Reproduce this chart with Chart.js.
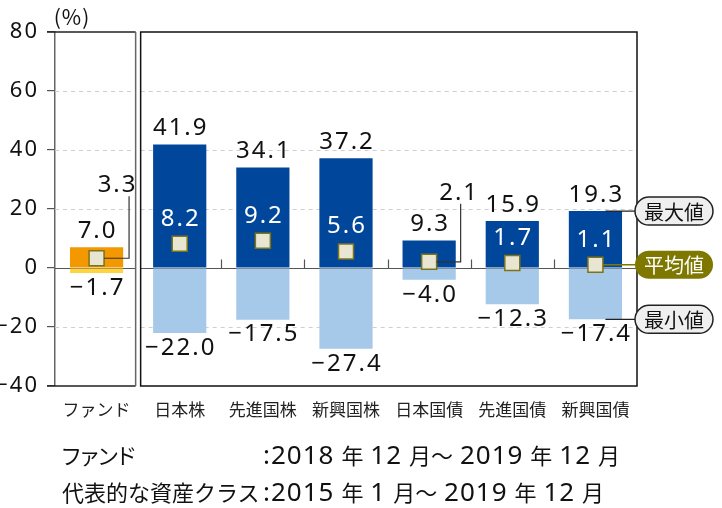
<!DOCTYPE html>
<html><head><meta charset="utf-8">
<script src="https://cdn.jsdelivr.net/npm/chart.js@4/dist/chart.umd.min.js"></script>
<style>
html,body{margin:0;padding:0;background:#fff;}
#wrap{position:relative;width:722px;height:508px;overflow:hidden;background:#fff;}
#c{position:absolute;left:0;top:0;}
.note{position:absolute;font-family:"Noto Sans CJK JP";font-size:22px;color:#111;white-space:pre;line-height:26px;word-spacing:2px;}
.note .d{font-family:"Noto Sans";font-size:26px;letter-spacing:1px;}
.note.kana{font-feature-settings:"palt";}
</style></head><body>
<div id="wrap">
<canvas id="c" width="722" height="508"></canvas>
<div id="notes"></div>
</div>
<script>
// ---- data ----
const categories = ['ファンド','日本株','先進国株','新興国株','日本国債','先進国債','新興国債'];
const maxValues = [7.0, 41.9, 34.1, 37.2, 9.3, 15.9, 19.3];
const minValues = [-1.7, -22.0, -17.5, -27.4, -4.0, -12.3, -17.4];
const avgValues = [3.3, 8.2, 9.2, 5.6, 2.1, 1.7, 1.1];
const yTicks = [-40, -20, 0, 20, 40, 60, 80];
const legendLabels = ['最大値', '平均値', '最小値'];
const unitLabel = '(%)';
const noteNames = ['ファンド', '代表的な資産クラス'];
const notePeriods = [':2018 年 12 月～ 2019 年 12 月', ':2015 年 1 月～ 2019 年 12 月'];

// ---- style ----
const COL = {
  fundMax:'#F39800', fundMin:'#FFD43C', max:'#00469B', min:'#A6C9EA',
  markFill:'#E8E5D2', markLine:'#7D7418', olive:'#7E7800', text:'#111'
};
const NUM_FONT = '24px "Noto Sans"';
const leaderStyle = {0:{dx:20, dy:-73, lineX:32.5}, 4:{dx:29, dy:-69, lineX:31.5}};

// notes (HTML text)
const notes = document.getElementById('notes');
const noteTops = [441, 478];
function esc(s){ return s.replace(/&/g,'&amp;').replace(/</g,'&lt;'); }
noteNames.forEach((n,i)=>{
  const a=document.createElement('div'); a.className='note'+(i===0?' kana':''); a.style.left='62px'; a.style.top=noteTops[i]+'px'; a.textContent=n; notes.appendChild(a);
  const b=document.createElement('div'); b.className='note'; b.style.left='263px'; b.style.top=noteTops[i]+'px';
  b.innerHTML=esc(notePeriods[i]).replace(/[0-9:]+/g, m=>'<span class="d">'+m+'</span>'); notes.appendChild(b);
});

function fmt(v){ return (v<0?'\u2212':'') + Math.abs(v).toFixed(1); }

function pill(ctx, cx, cy, w, h, fill, stroke, text, tcol){
  const r=h/2, x=cx-w/2, y=cy-h/2;
  ctx.beginPath();
  ctx.moveTo(x+r,y); ctx.lineTo(x+w-r,y); ctx.arc(x+w-r,cy,r,-Math.PI/2,Math.PI/2);
  ctx.lineTo(x+r,y+h); ctx.arc(x+r,cy,r,Math.PI/2,Math.PI*1.5); ctx.closePath();
  ctx.fillStyle=fill; ctx.fill();
  if(stroke){ctx.strokeStyle=stroke; ctx.lineWidth=1.5; ctx.stroke();}
  ctx.fillStyle=tcol; ctx.font='20px "Noto Sans CJK JP"'; ctx.textAlign='center'; ctx.textBaseline='middle';
  ctx.fillText(text,cx,cy+1);
}

const framePlugin = {
  id:'frame',
  beforeDraw(chart){ chart.ctx.letterSpacing='2px'; },
  beforeDatasetsDraw(chart){
    const {ctx, chartArea:a, scales:{x,y}} = chart;
    ctx.letterSpacing='0px';
    const b = (x.getPixelForValue(0)+x.getPixelForValue(1))/2;
    ctx.save();
    ctx.strokeStyle='#cfcfcf'; ctx.lineWidth=1; ctx.setLineDash([4,4]);
    y.ticks.forEach(t=>{
      if(t.value===0||t.value===y.min||t.value===y.max) return;
      const py=Math.round(y.getPixelForValue(t.value))+0.5;
      ctx.beginPath(); ctx.moveTo(a.left,py); ctx.lineTo(b-2.5,py); ctx.moveTo(b+2.5,py); ctx.lineTo(a.right,py); ctx.stroke();
    });
    ctx.setLineDash([]);
    const y0=Math.round(y.getPixelForValue(0))+0.5;
    ctx.strokeStyle='#555'; ctx.lineWidth=1.2;
    ctx.beginPath(); ctx.moveTo(a.left,y0); ctx.lineTo(b-2.5,y0); ctx.moveTo(b+2.5,y0); ctx.lineTo(a.right,y0); ctx.stroke();
    for(let i=1;i<categories.length-1;i++){
      const bx=Math.round((x.getPixelForValue(i)+x.getPixelForValue(i+1))/2)+0.5;
      ctx.beginPath(); ctx.moveTo(bx,y0); ctx.lineTo(bx,y0-9); ctx.stroke();
    }
    ctx.restore();
  },
  afterDatasetsDraw(chart){
    const {ctx, chartArea:a, scales:{x,y}} = chart;
    const b = (x.getPixelForValue(0)+x.getPixelForValue(1))/2;
    ctx.save();
    // frames
    ctx.lineWidth=1.5; ctx.strokeStyle='#222';
    ctx.beginPath(); ctx.moveTo(a.left-8,a.top); ctx.lineTo(b-2.5,a.top); ctx.moveTo(a.left-8,a.bottom); ctx.lineTo(b-2.5,a.bottom); ctx.stroke();
    ctx.strokeStyle='#666';
    ctx.beginPath(); ctx.moveTo(b-2.5,a.top); ctx.lineTo(b-2.5,a.bottom); ctx.stroke();
    ctx.strokeStyle='#111';
    ctx.strokeRect(b+2.5,a.top,a.right-(b+2.5),a.bottom-a.top);

    // unit
    ctx.fillStyle=COL.text; ctx.font='21px "Noto Sans CJK JP"'; ctx.textAlign='center'; ctx.textBaseline='middle';
    ctx.letterSpacing='1px';
    ctx.fillText(unitLabel, 72, 17);

    // value labels
    ctx.font=NUM_FONT; ctx.letterSpacing='2px';
    categories.forEach((c,i)=>{
      const xc=x.getPixelForValue(i);
      ctx.fillStyle=COL.text;
      ctx.fillText(fmt(maxValues[i]), xc+1, y.getPixelForValue(maxValues[i])-16);
      ctx.fillText(fmt(minValues[i]), xc+1, y.getPixelForValue(minValues[i])+15);
      const ya=y.getPixelForValue(avgValues[i]);
      const L=leaderStyle[i];
      if(L){
        const ly=ya+L.dy;
        ctx.fillText(fmt(avgValues[i]), xc+L.dx+1, ly);
        ctx.strokeStyle='#333'; ctx.lineWidth=1.2;
        ctx.beginPath(); ctx.moveTo(xc+7.5,ya); ctx.lineTo(xc+L.lineX,ya); ctx.lineTo(xc+L.lineX,ly+11); ctx.stroke();
      } else {
        ctx.fillStyle='#fff';
        ctx.fillText(fmt(avgValues[i]), xc+1, ya-25);
      }
    });
    ctx.letterSpacing='0px';

    // right legend pills tied to last category
    const li=categories.length-1, xl=x.getPixelForValue(li);
    const pcx=a.right+37, pw=78, ph=28;
    const yMax=y.getPixelForValue(maxValues[li]), yAvg=y.getPixelForValue(avgValues[li]), yMin=y.getPixelForValue(minValues[li]);
    ctx.lineWidth=1.3;
    ctx.strokeStyle='#222';
    ctx.beginPath(); ctx.moveTo(xl+10,yMax); ctx.lineTo(pcx-pw/2,yMax); ctx.moveTo(xl+10,yMin); ctx.lineTo(pcx-pw/2,yMin); ctx.stroke();
    ctx.strokeStyle=COL.olive;
    ctx.beginPath(); ctx.moveTo(xl+7.5,yAvg); ctx.lineTo(pcx-pw/2,yAvg); ctx.stroke();
    pill(ctx,pcx,yMax,pw,ph,'#EFEFEF','#222',legendLabels[0],'#111');
    pill(ctx,pcx,yAvg,pw,ph,COL.olive,null,legendLabels[1],'#fff');
    pill(ctx,pcx,yMin,pw,ph,'#EFEFEF','#222',legendLabels[2],'#111');
    ctx.restore();
    ctx.letterSpacing='0px';
  },
  afterDraw(chart){ chart.ctx.letterSpacing='0px'; }
};

new Chart(document.getElementById('c').getContext('2d'), {
  type:'bar',
  data:{
    labels:categories,
    datasets:[
      {data:avgValues, type:'line', showLine:false, pointStyle:'rect', pointRadius:10.6, pointHoverRadius:10.6,
       pointBackgroundColor:COL.markFill, pointBorderColor:COL.markLine, pointBorderWidth:1.5, order:0},
      {data:maxValues, backgroundColor:categories.map((c,i)=>i===0?COL.fundMax:COL.max), grouped:false,
       barPercentage:0.64, categoryPercentage:1, order:2},
      {data:minValues, backgroundColor:categories.map((c,i)=>i===0?COL.fundMin:COL.min), grouped:false,
       barPercentage:0.64, categoryPercentage:1, order:2}
    ]
  },
  options:{
    responsive:false, animation:false, devicePixelRatio:1,
    layout:{padding:{left:0,right:85,top:32,bottom:0}},
    plugins:{legend:{display:false}, tooltip:{enabled:false}},
    scales:{
      x:{
        offset:true,
        grid:{display:false}, border:{display:false},
        ticks:{z:1, font:{family:'"Noto Sans CJK JP"', size:17}, color:'#222', padding:5, maxRotation:0, autoSkip:false},
        afterFit(s){ s.height=122; s.paddingLeft=0; s.paddingRight=0; }
      },
      y:{
        min:-40, max:80,
        afterBuildTicks(s){ s.ticks=yTicks.map(v=>({value:v})); },
        grid:{drawOnChartArea:false, tickLength:8, color:'#555', lineWidth:1.2},
        border:{display:true, color:'#666', width:1.5},
        ticks:{font:{family:'"Noto Sans"', size:22}, color:'#111', padding:8,
               callback:v=>v<0?'\u2212'+Math.abs(v):String(v)},
        afterFit(s){ s.width=55; s.paddingTop=0; s.paddingBottom=0; }
      }
    }
  },
  plugins:[framePlugin]
});
</script>
</body></html>
